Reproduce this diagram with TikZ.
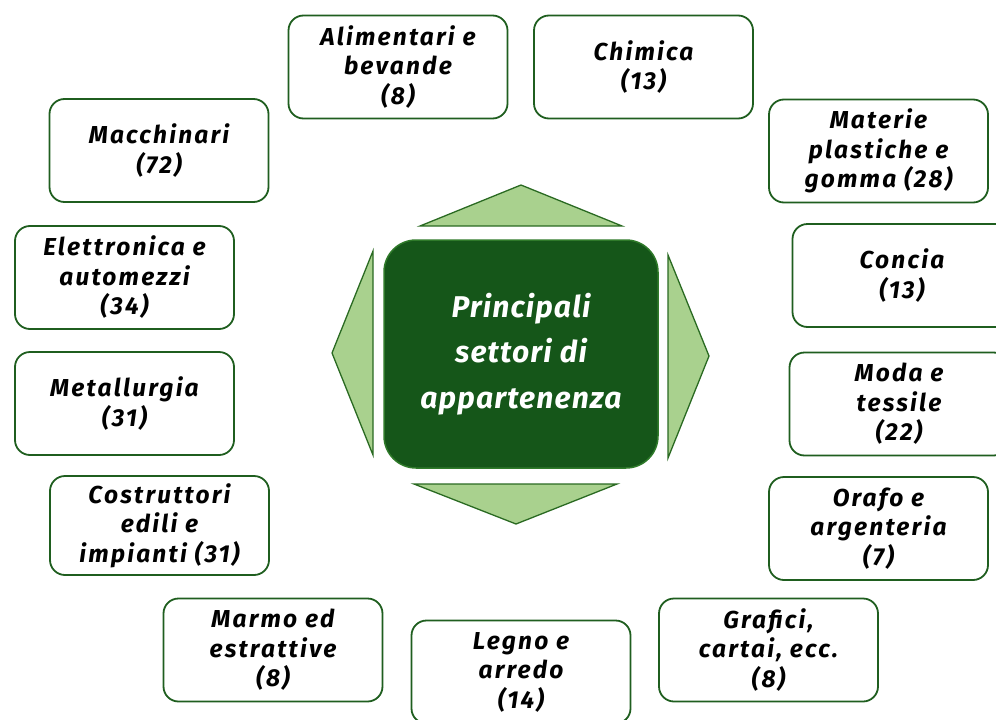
\documentclass[tikz,border=0pt]{standalone}
\usepackage{fontspec}
\setmainfont{Fira Sans}
\newfontfamily\boxfont[LetterSpace=9]{Fira Sans}
\newfontfamily\hubfont[LetterSpace=4]{Fira Sans}
\definecolor{boxgreen}{HTML}{1F5E1F}
\definecolor{darkfill}{HTML}{155619}
\definecolor{darkborder}{HTML}{2F7A2A}
\definecolor{lightfill}{HTML}{A9D18E}
\definecolor{triedge}{HTML}{2A6A22}
\tikzset{
  sbox/.style={draw=boxgreen, line width=1.8pt, rounded corners=15pt, fill=white,
    minimum width=219pt, minimum height=103pt, inner sep=0pt, align=center,
    font=\boxfont\fontsize{24.5}{29.5}\selectfont\bfseries\itshape},
  hub/.style={draw=darkborder, line width=1.5pt, rounded corners=32pt, fill=darkfill,
    minimum width=274pt, minimum height=228pt, inner sep=0pt, align=center, text=white,
    font=\hubfont\fontsize{30}{45.5}\selectfont\bfseries\itshape},
  tri/.style={fill=lightfill, draw=triedge, line width=1.3pt, line join=miter}
}
\begin{document}
\begin{tikzpicture}[x=1pt,y=-1pt]
\useasboundingbox (0,0) rectangle (996,720);
\clip (0,0) rectangle (996,720);
% triangles
\filldraw[tri] (420,226) -- (521,185) -- (622,226) -- cycle;
\filldraw[tri] (414,484) -- (516,524) -- (617,484) -- cycle;
\filldraw[tri] (373,251) -- (332,353) -- (373,455) -- cycle;
\filldraw[tri] (668,255) -- (709,356) -- (668,458) -- cycle;
% hub
\node[hub] (hub) at (521,354) {Principali\\settori di\\appartenenza};
% sector boxes
\node[sbox] (ali) at (398,67) {Alimentari e\\bevande\\(8)};
\node[sbox] (chim) at (643.5,67) {Chimica\\(13)};
\node[sbox] (macch) at (159,150.5) {Macchinari\\(72)};
\node[sbox] (mat) at (878.5,151) {Materie\\plastiche e\\gomma (28)};
\node[sbox] (elet) at (124.5,277.5) {Elettronica e\\automezzi\\(34)};
\node[sbox] (conc) at (902,275.5) {Concia\\(13)};
\node[sbox] (metal) at (124.5,403.5) {Metallurgia\\(31)};
\node[sbox] (moda) at (899,404) {Moda e\\tessile\\(22)};
\node[sbox, minimum height=99pt] (costr) at (159.5,525.5) {Costruttori\\edili e\\impianti (31)};
\node[sbox] (orafo) at (878.5,528.5) {Orafo e\\argenteria\\(7)};
\node[sbox] (marmo) at (273,650) {Marmo ed\\estrattive\\(8)};
\node[sbox] (legno) at (521,672) {Legno e\\arredo\\(14)};
\node[sbox] (graf) at (768.5,650) {Grafici,\\cartai, ecc.\\(8)};
\end{tikzpicture}
\end{document}
